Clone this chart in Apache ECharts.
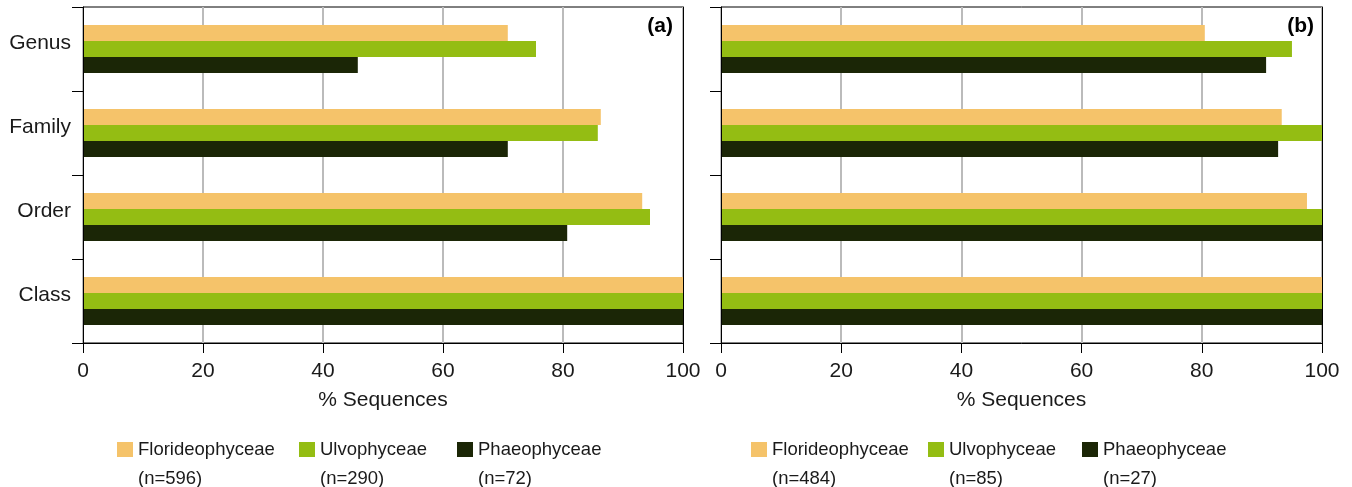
<!DOCTYPE html>
<html>
<head>
<meta charset="utf-8">
<script src="https://cdn.jsdelivr.net/npm/echarts@6/dist/echarts.min.js"></script>
<style>html,body{margin:0;padding:0;background:#fff}#c{width:1352px;height:487px}</style>
</head>
<body>
<div id="c"></div>
<script>
const categories = ['Class', 'Order', 'Family', 'Genus'];
const xTicks = [0, 20, 40, 60, 80, 100];
const seriesNames = ['Florideophyceae', 'Ulvophyceae', 'Phaeophyceae'];
const countsA = [596, 290, 72];
const countsB = [484, 85, 27];
// values ordered as categories: Class, Order, Family, Genus
const floridA = [100, 93.2, 86.3, 70.8];
const ulvoA = [100, 94.5, 85.8, 75.5];
const phaeoA = [100, 80.7, 70.8, 45.8];
const floridB = [100, 97.5, 93.3, 80.5];
const ulvoB = [100, 100, 100, 95.0];
const phaeoB = [100, 100, 92.7, 90.7];
const panelLabels = ['(a)', '(b)'];

const colors = ['#F5C36A', '#94BD13', '#1B2606'];
const font = 'Liberation Sans, Arial, sans-serif';
const txt = '#1a1a1a';

const grids = [
  {left: 83, top: 7, width: 600, height: 336},
  {left: 721, top: 7, width: 601, height: 336}
];

function xAxis(gi) {
  return {
    type: 'value', gridIndex: gi, min: 0, max: 100, interval: 20,
    name: '% Sequences', nameLocation: 'middle', nameGap: 47,
    nameTextStyle: {fontFamily: font, fontSize: 21, color: txt},
    axisLine: {show: true, lineStyle: {color: '#000', width: 1}},
    axisTick: {show: true, length: 10, lineStyle: {color: '#000'}},
    axisLabel: {fontFamily: font, fontSize: 21, color: txt, margin: 18,
      formatter: v => xTicks.includes(v) ? String(v) : ''},
    splitLine: {show: true, lineStyle: {color: '#bbbbbb', width: 2}}
  };
}
function yAxis(gi, showLabels) {
  return {
    type: 'category', gridIndex: gi, data: categories,
    axisLine: {show: true, lineStyle: {color: '#000', width: 1}},
    axisTick: {show: true, length: 11, lineStyle: {color: '#000'}},
    axisLabel: {show: showLabels, fontFamily: font, fontSize: 21, color: txt, margin: 12,
      verticalAlign: 'bottom', lineHeight: 12},
    splitLine: {show: false}, z: 5
  };
}
function rightBorder(gi) {
  return {
    type: 'category', gridIndex: gi, data: categories, position: 'right',
    axisLine: {show: true, lineStyle: {color: '#000', width: 1}},
    axisTick: {show: false}, axisLabel: {show: false}, splitLine: {show: false}, z: 5
  };
}

const dataA = [floridA, ulvoA, phaeoA];
const dataB = [floridB, ulvoB, phaeoB];
const series = [];
const legends = [];
const legendLeftA = [117, 299, 457];
const legendLeftB = [751, 928, 1082];
[[dataA, countsA, legendLeftA, 0], [dataB, countsB, legendLeftB, 1]].forEach(([data, counts, lefts, gi]) => {
  seriesNames.forEach((n, i) => {
    const name = n + ' (n=' + counts[i] + ')';
    series.push({
      type: 'bar', name: name, xAxisIndex: gi, yAxisIndex: gi,
      data: data[i], barWidth: 16, barGap: '0%',
      itemStyle: {color: colors[i]}, silent: true
    });
    legends.push({
      data: [name], left: lefts[i], top: 406, padding: 0,
      itemWidth: 16, itemHeight: 15, icon: 'rect', selectedMode: false,
      formatter: nm => '\n' + nm.replace(' (', '\n('),
      textStyle: {fontFamily: font, fontSize: 18.5, color: txt, lineHeight: 29}
    });
  });
});

const chart = echarts.init(document.getElementById('c'), null, {renderer: 'canvas'});
chart.setOption({
  animation: false,
  backgroundColor: '#fff',
  grid: grids.map(g => Object.assign({show: true, borderColor: '#000', borderWidth: 1, backgroundColor: 'transparent'}, g)),
  xAxis: [xAxis(0), xAxis(1)],
  yAxis: [yAxis(0, true), yAxis(1, false), rightBorder(0), rightBorder(1)],
  legend: legends,
  series: series,
  graphic: [
    {type: 'text', x: 673, y: 26, style: {text: panelLabels[0], font: 'bold 21px ' + font, fill: '#000', align: 'right', verticalAlign: 'middle'}},
    {type: 'text', x: 1314, y: 26, style: {text: panelLabels[1], font: 'bold 21px ' + font, fill: '#000', align: 'right', verticalAlign: 'middle'}}
  ]
});
</script>
</body>
</html>
